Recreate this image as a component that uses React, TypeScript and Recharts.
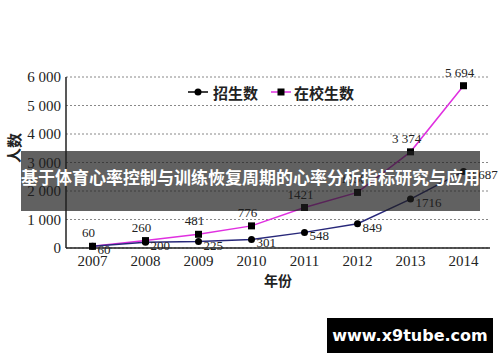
import React from 'react';
import { LineChart, Line, XAxis, YAxis, CartesianGrid } from 'recharts';

const years = [2007, 2008, 2009, 2010, 2011, 2012, 2013, 2014];
const enrollment = [60, 200, 225, 301, 548, 849, 1716, 2687];
const inSchool = [60, 260, 481, 776, 1421, 1950, 3374, 5694];
const yTicks = [0, 1000, 2000, 3000, 4000, 5000, 6000];
const bandEdges = [2007.5, 2008.5, 2009.5, 2010.5, 2011.5, 2012.5, 2013.5, 2014.5];

const seriesNames = ['招生数', '在校生数'];
const yTitle = '人数';
const xTitle = '年份';
const bannerText = '基于体育心率控制与训练恢复周期的心率分析指标研究与应用';
const watermark = 'www.x9tube.com';

const data = years.map((y, i) => ({ year: y, enroll: enrollment[i], school: inSchool[i] }));

const SERIF = '"Liberation Serif", "Times New Roman", serif';
const CJK = '"Noto Sans CJK SC", sans-serif';
const NAVY = '#28287a';
const MAGENTA = '#e030e0';

const fmtTick = (v: number) => {
  const s = String(v);
  return v >= 1000 ? s.slice(0, s.length - 3) + ' ' + s.slice(-3) : s;
};
const fmtLabel = (v: number) => (v >= 2000 ? fmtTick(v) : String(v));

const SquareDot = (props: any) => {
  const { cx, cy } = props;
  if (cx == null || cy == null) return null;
  return <rect x={cx - 3.5} y={cy - 3.5} width={7} height={7} fill="#000" />;
};
const CircleDot = (props: any) => {
  const { cx, cy } = props;
  if (cx == null || cy == null) return null;
  return <circle cx={cx} cy={cy} r={3.5} fill="#000" />;
};

const EnrollLabel = (props: any) => {
  const { x, y, value } = props;
  return (
    <text x={x + 5} y={y + 5} fontSize={13} fontFamily={SERIF} fill="#222" dominantBaseline="middle" textAnchor="start">
      {fmtLabel(value)}
    </text>
  );
};
const SchoolLabel = (props: any) => {
  const { x, y, value } = props;
  return (
    <text x={x - 4} y={y - 9} fontSize={13} fontFamily={SERIF} fill="#222" textAnchor="middle">
      {fmtLabel(value)}
    </text>
  );
};

export default function App() {
  return (
    <div style={{ position: 'absolute', left: 0, top: 0, width: 500, height: 362, background: '#fff', overflow: 'hidden' }}>
      <LineChart width={500} height={362} data={data} margin={{ top: 77, right: 10, bottom: 84, left: 6 }}>
        <CartesianGrid horizontal vertical={false} stroke="#888" strokeDasharray="2 2" />
        <XAxis
          xAxisId="edges"
          dataKey="year"
          type="number"
          domain={[2006.5, 2014.5]}
          ticks={bandEdges}
          height={0}
          axisLine={false}
          tickLine={{ stroke: '#333' }}
          tickSize={-5}
          tickFormatter={() => ''}
        />
        <XAxis
          dataKey="year"
          type="number"
          domain={[2006.5, 2014.5]}
          ticks={years}
          height={30}
          axisLine={{ stroke: '#222', strokeWidth: 1.5 }}
          tickLine={false}
          tickSize={6}
          tickMargin={1}
          tick={{ fontSize: 15, fontFamily: SERIF, fill: '#222' }}
          label={{ value: xTitle, position: 'insideBottom', offset: -8, style: { fontSize: 14, fontFamily: CJK, fontWeight: 700, fill: '#222' } }}
        />
        <YAxis
          domain={[0, 6000]}
          ticks={yTicks}
          width={60}
          axisLine={{ stroke: '#222', strokeWidth: 1.5 }}
          tickLine={false}
          tickSize={3}
          tickMargin={2}
          tickFormatter={fmtTick}
          tick={{ fontSize: 15, fontFamily: SERIF, fill: '#222' }}
        />
        <Line
          dataKey="school"
          stroke={MAGENTA}
          strokeWidth={1.5}
          dot={<SquareDot />}
          isAnimationActive={false}
          label={<SchoolLabel />}
        />
        <Line
          dataKey="enroll"
          stroke={NAVY}
          strokeWidth={1.5}
          dot={<CircleDot />}
          isAnimationActive={false}
          label={<EnrollLabel />}
        />
      </LineChart>

      <svg style={{ position: 'absolute', left: 0, top: 0 }} width={500} height={200}>
        <text x={0} y={0} transform="translate(13,148) rotate(-90)" fontSize={15} fontFamily={CJK} fontWeight={700} fill="#222" textAnchor="middle" dominantBaseline="central">{yTitle}</text>
        <line x1={188} y1={92} x2={208} y2={92} stroke="#000" strokeWidth={1.5} />
        <circle cx={198} cy={92} r={3.5} fill="#000" />
        <text x={213} y={92} fontSize={15} fontFamily={CJK} fontWeight={600} fill="#222" dominantBaseline="central">{seriesNames[0]}</text>
        <line x1={271} y1={92} x2={291} y2={92} stroke={MAGENTA} strokeWidth={1.5} />
        <rect x={277.5} y={88.5} width={7} height={7} fill="#000" />
        <text x={294} y={92} fontSize={15} fontFamily={CJK} fontWeight={600} fill="#222" dominantBaseline="central">{seriesNames[1]}</text>
      </svg>

      <div style={{ position: 'absolute', left: 21, top: 151, width: 459, height: 60, background: 'rgba(30,30,30,0.7)', color: '#fff', fontFamily: CJK, fontWeight: 700, fontSize: 17, lineHeight: '60px', textAlign: 'center', whiteSpace: 'nowrap' }}>
        <span style={{ position: 'relative', top: -4 }}>{bannerText}</span>
      </div>

      <div style={{ position: 'absolute', left: 327, top: 318, width: 166, height: 35, background: '#000', color: '#fff', fontFamily: '"DejaVu Sans", sans-serif', fontWeight: 700, fontSize: 16, lineHeight: '35px', textAlign: 'center', whiteSpace: 'nowrap' }}>
        {watermark}
      </div>
    </div>
  );
}
